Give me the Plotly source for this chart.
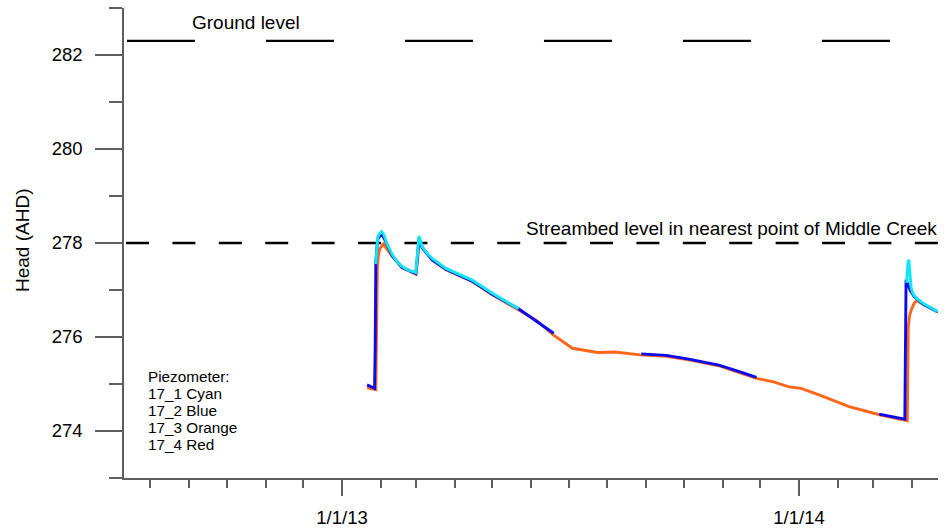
import plotly.graph_objects as go

# ---------------- data ----------------
cyan_dates = ["2013-01-28 00:00", "2013-01-28 18:00", "2013-01-29 12:00", "2013-01-30 12:00",
              "2013-02-01 12:00", "2013-02-03 00:00", "2013-02-04 00:00", "2013-02-06 00:00",
              "2013-02-10", "2013-02-14", "2013-02-18", "2013-02-23", "2013-03-01",
              "2013-03-02 00:00", "2013-03-02 18:00", "2013-03-03 12:00", "2013-03-04 06:00",
              "2013-03-06", "2013-03-10", "2013-03-14", "2013-03-25", "2013-04-05", "2013-04-15",
              "2013-05-01", "2013-05-22", None,
              "2014-03-28 00:00", "2014-03-29 00:00", "2014-03-29 18:00", "2014-03-30 12:00",
              "2014-03-31 12:00", "2014-04-02", "2014-04-05", "2014-04-10", "2014-04-16", "2014-04-22"]
cyan_vals = [277.55, 277.95, 278.12, 278.18,
             278.24, 278.2, 278.12, 277.98,
             277.76, 277.6, 277.5, 277.42, 277.37,
             277.7, 278.05, 278.15, 278.08,
             277.92, 277.78, 277.67, 277.46, 277.33, 277.21,
             276.93, 276.6, None,
             277.15, 277.6, 277.64, 277.3,
             277.05, 276.92, 276.82, 276.72, 276.63, 276.54]

blue_dates = ["2013-01-21", "2013-01-24", "2013-01-27", "2013-01-27 12:00", "2013-01-28",
              "2013-01-29 12:00", "2013-02-01 12:00", "2013-02-04", "2013-02-10", "2013-02-18",
              "2013-03-01", "2013-03-03 12:00", "2013-03-06", "2013-03-14", "2013-03-25",
              "2013-04-15", "2013-05-01", "2013-05-22", "2013-06-01", "2013-06-19", None,
              "2013-08-28", "2013-09-17", "2013-10-05", "2013-10-29", "2013-11-15", "2013-11-28", None,
              "2014-03-06", "2014-03-16", "2014-03-26 12:00", "2014-03-27 12:00", "2014-03-31",
              "2014-04-03", "2014-04-10", "2014-04-22"]
blue_vals = [274.98, 274.95, 274.91, 275.8, 277.6,
             278.08, 278.2, 278.08, 277.73, 277.48,
             277.35, 278.1, 277.9, 277.64, 277.44,
             277.19, 276.91, 276.6, 276.42, 276.08, None,
             275.64, 275.61, 275.53, 275.40, 275.26, 275.14, None,
             274.36, 274.3, 274.25, 277.22, 276.98,
             276.86, 276.7, 276.53]

orange_dates = ["2013-01-21", "2013-01-24", "2013-01-28", "2013-01-28 18:00", "2013-01-29 06:00",
                "2013-01-30", "2013-01-31", "2013-02-02", "2013-02-03", "2013-02-05",
                "2013-02-10", "2013-02-18", "2013-03-01", "2013-03-02 06:00", "2013-03-03 12:00",
                "2013-03-05", "2013-03-14", "2013-03-25", "2013-04-15", "2013-05-01",
                "2013-05-22", "2013-06-05", "2013-06-19", "2013-07-04", "2013-07-24",
                "2013-08-07", "2013-08-27", "2013-09-17", "2013-10-06", "2013-10-30",
                "2013-11-28", "2013-12-11", "2013-12-24", "2014-01-02", "2014-01-17",
                "2014-02-10", "2014-03-07", "2014-03-26", "2014-03-28 12:00", "2014-03-29 06:00",
                "2014-03-30 06:00", "2014-04-01", "2014-04-03", "2014-04-05", "2014-04-10",
                "2014-04-22"]
orange_vals = [274.93, 274.9, 274.88, 276.5, 277.5,
               277.72, 277.86, 277.95, 277.98, 277.9,
               277.72, 277.47, 277.34, 277.6, 278.03,
               277.95, 277.64, 277.43, 277.18, 276.9,
               276.57, 276.36, 276.04, 275.76, 275.67,
               275.68, 275.62, 275.59, 275.51, 275.38,
               275.12, 275.05, 274.94, 274.91, 274.77,
               274.52, 274.34, 274.23, 274.22, 276.2,
               276.45, 276.6, 276.72, 276.77, 276.7,
               276.53]

ground_dates = ["2012-07-13 06:00", "2014-04-22"]
ground_vals = [282.3, 282.3]
stream_dates = ["2012-07-12 12:00", "2014-04-22"]
stream_vals = [278.0, 278.0]

legend_lines = ["Piezometer:", "17_1 Cyan", "17_2 Blue", "17_3 Orange", "17_4 Red"]

# ---------------- figure ----------------
FONT = "Liberation Sans, Arial, sans-serif"
AX = "#5f5f5f"
W, H = 947, 531
L, R, T, B = 124, 9, 8, 53
PW, PH = W - L - R, H - T - B


def px2paper(px, py):
    return (px - L) / PW, (H - B - py) / PH


fig = go.Figure()
fig.add_trace(go.Scatter(x=ground_dates, y=ground_vals, mode="lines",
                         line=dict(color="black", width=2.4, dash="68px,71px"), hoverinfo="skip"))
fig.add_trace(go.Scatter(x=stream_dates, y=stream_vals, mode="lines",
                         line=dict(color="black", width=2.4, dash="23px,23.4px"), hoverinfo="skip"))
fig.add_trace(go.Scatter(x=orange_dates, y=orange_vals, mode="lines", name="17_3",
                         line=dict(color="#FF661A", width=2.9)))
fig.add_trace(go.Scatter(x=blue_dates, y=blue_vals, mode="lines", name="17_2",
                         line=dict(color="#0A0AF0", width=2.9)))
fig.add_trace(go.Scatter(x=cyan_dates, y=cyan_vals, mode="lines", name="17_1",
                         line=dict(color="#10E6F5", width=2.9)))

ann = []
x0, y0 = px2paper(190, 23)
ann.append(dict(x=x0, y=y0, xref="paper", yref="paper", text="Ground level", showarrow=False,
                xanchor="left", yanchor="middle", font=dict(size=19, color="black", family=FONT)))
x0, y0 = px2paper(524, 229)
ann.append(dict(x=x0, y=y0, xref="paper", yref="paper",
                text="Streambed level in nearest point of Middle Creek", showarrow=False,
                xanchor="left", yanchor="middle", font=dict(size=19, color="black", family=FONT)))
for i, t in enumerate(legend_lines):
    x0, y0 = px2paper(146, 376 + i * 17.1)
    ann.append(dict(x=x0, y=y0, xref="paper", yref="paper", text=t, showarrow=False,
                    xanchor="left", yanchor="middle", font=dict(size=15.3, color="black", family=FONT)))
x0, y0 = px2paper(22, 240)
ann.append(dict(x=x0, y=y0, xref="paper", yref="paper", text="Head (AHD)", showarrow=False,
                textangle=-90, xanchor="center", yanchor="middle",
                font=dict(size=19, color="black", family=FONT)))

# short stretch of the x-axis line to the left of the y-axis, as in the original
xa, _ = px2paper(110, 478)
shapes = [dict(type="line", xref="paper", yref="paper", x0=xa, x1=0, y0=0, y1=0,
               line=dict(color=AX, width=1.5), layer="above")]

fig.update_layout(
    width=W, height=H, margin=dict(l=L, r=R, t=T, b=B, autoexpand=False),
    paper_bgcolor="white", plot_bgcolor="white", showlegend=False,
    font=dict(family=FONT, color="black"),
    annotations=ann, shapes=shapes,
    xaxis=dict(type="date", range=["2012-07-10 21:00", "2014-04-22"], domain=[0, 1],
               showgrid=False, zeroline=False, showline=True, linecolor=AX, linewidth=1.5,
               ticks="outside", ticklen=16, tickwidth=1.5, tickcolor=AX,
               tick0="2013-01-01", dtick="M12", tickformat="%-m/%-d/%y",
               tickfont=dict(size=18.5, family=FONT, color="black"), ticklabelstandoff=6,
               minor=dict(dtick="M1", tick0="2013-01-01", ticks="outside", ticklen=8,
                          tickwidth=1.5, tickcolor=AX, showgrid=False),
               automargin=False),
    yaxis=dict(range=[273, 283], anchor="x",
               showgrid=False, zeroline=False, showline=True, linecolor=AX, linewidth=1.5,
               ticks="outside", ticklen=27, tickwidth=1.5, tickcolor=AX,
               tick0=274, dtick=2, tickfont=dict(size=18.5, family=FONT, color="black"),
               ticklabelstandoff=9,
               minor=dict(dtick=1, tick0=273, ticks="outside", ticklen=13,
                          tickwidth=1.5, tickcolor=AX, showgrid=False),
               automargin=False),
)

fig.write_html("out.html", config={"displayModeBar": False},
               post_script="document.body.style.margin='0';document.body.style.padding='0';")
